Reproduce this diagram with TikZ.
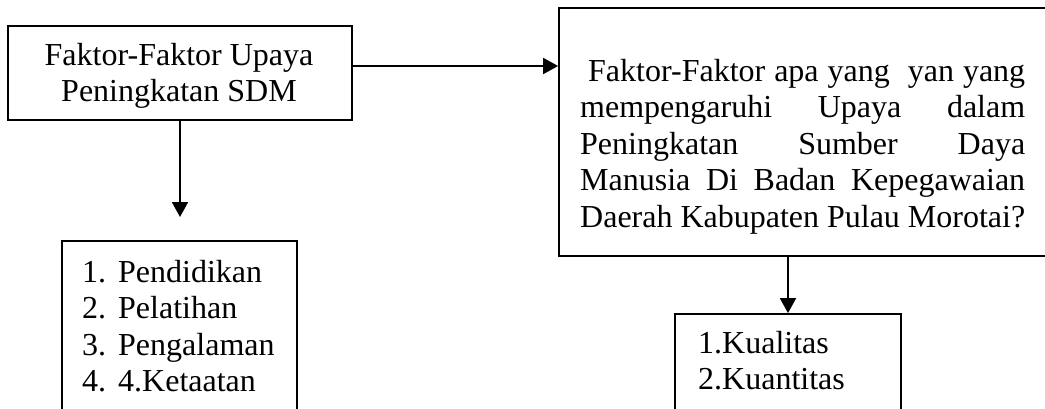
\documentclass[tikz,border=0pt]{standalone}
\usepackage{fontspec}
\setmainfont{Liberation Serif}
\usetikzlibrary{arrows.meta}
\begin{document}
\begin{tikzpicture}[x=1pt,y=-1pt,
  boxstyle/.style={draw=black,line width=1.8pt,inner sep=0pt,rectangle},
  txt/.style={inner sep=0pt,font=\fontsize{32}{36.5}\selectfont},
  arr/.style={line width=1.9pt,-{Triangle[length=15pt,width=16pt]}}]
\useasboundingbox (0,0) rectangle (1045,408);
\clip (0,0) rectangle (1045,408);
\fill[white] (0,0) rectangle (1045,408);
% boxes
\node[boxstyle,minimum width=344pt,minimum height=94pt] (b1) at (180,73) {};
\node[boxstyle,minimum width=496pt,minimum height=248pt] (b2) at (807,132) {};
\node[boxstyle,minimum width=235pt,minimum height=179pt] (b3) at (179.5,330.5) {};
\node[boxstyle,minimum width=226pt,minimum height=106pt] (b4) at (788,367) {};
% texts
\node[txt,anchor=base] (t1) at (179,65) {\begin{tabular}[t]{@{}c@{}}Faktor-Faktor Upaya\\Peningkatan SDM\end{tabular}};
\node[txt,anchor=base west] (t2) at (580,81) {\begin{tabular}[t]{@{}l@{}}%
\makebox[445pt][s]{\hspace{8pt}Faktor-Faktor apa yang\ \ yan yang}\\
\makebox[445pt][s]{mempengaruhi Upaya dalam}\\
\makebox[445pt][s]{Peningkatan Sumber Daya}\\
\makebox[445pt][s]{Manusia Di Badan Kepegawaian}\\
\makebox[445pt][s]{Daerah Kabupaten Pulau Morotai?}\end{tabular}};
\node[txt,anchor=base west] (t3) at (82,282) {\begin{tabular}[t]{@{}l@{\hspace{12pt}}l@{}}%
1.&Pendidikan\\2.&Pelatihan\\3.&Pengalaman\\4.&4.Ketaatan\end{tabular}};
\node[txt,anchor=base west] (t4) at (698,353) {\begin{tabular}[t]{@{}l@{}}1.Kualitas\\2.Kuantitas\end{tabular}};
% connectors
\coordinate (a1) at ([yshift=7pt]b1.east);
\coordinate (e1) at (180,217);
\draw[arr] (a1) -- (a1 -| b2.west);
\draw[arr] (b1.south) -- (e1);
\draw[arr] (b4.north |- b2.south) -- (b4.north);
\end{tikzpicture}
\end{document}
